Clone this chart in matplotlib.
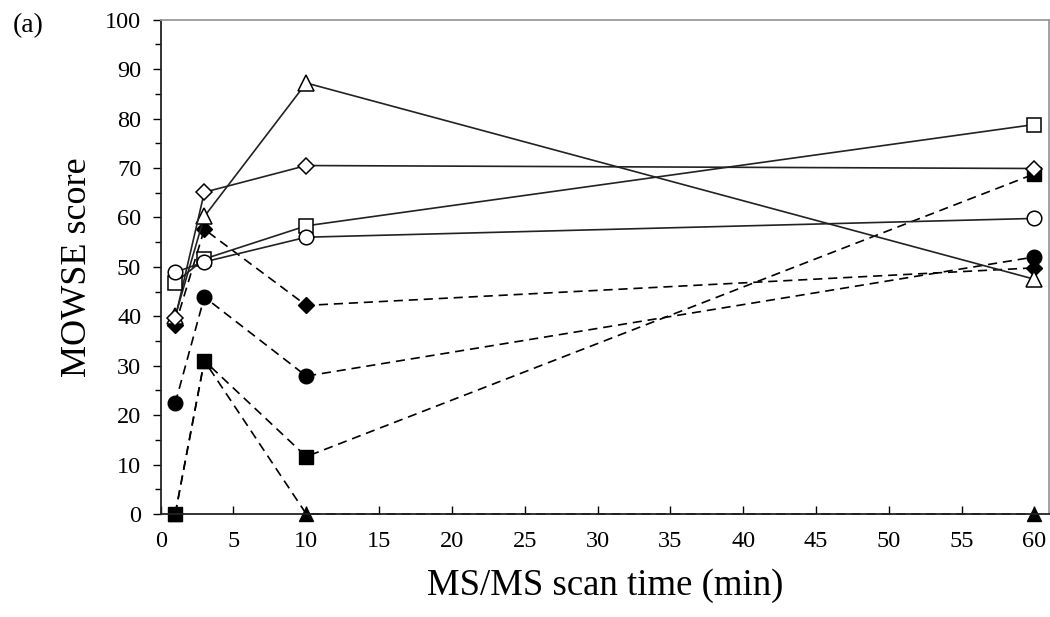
import matplotlib
matplotlib.use("Agg")
import matplotlib.pyplot as plt
from matplotlib.ticker import MultipleLocator

plt.rcParams['font.family'] = ['Liberation Serif', 'DejaVu Serif']

x = [1, 3, 10, 60]

open_triangle = [40, 60.2, 87.2, 47.5]
open_diamond = [39.6, 65.1, 70.5, 69.9]
open_square = [46.8, 51.6, 58.3, 78.8]
open_circle = [48.9, 51.0, 56.0, 59.8]
filled_diamond = [38.2, 57.6, 42.2, 49.8]
filled_circle = [22.4, 43.9, 27.9, 52.0]
filled_square = [0, 31.0, 11.6, 68.8]
filled_triangle = [0, 31.0, 0, 0]

xticks = list(range(0, 61, 5))

fig = plt.figure(figsize=(10.5, 6.17), dpi=100)
ax = fig.add_axes([0.153, 0.167, 0.846, 0.801])

ms = 10.5
solid_kw = dict(color='#222222', lw=1.2, ls='-', mfc='white', mec='black', mew=1.1, ms=ms)
dash_kw = dict(color='black', lw=1.2, ls=(0, (5.5, 3.5)), mfc='black', mec='black', ms=ms)

ax.plot(x, filled_triangle, marker='^', **dash_kw)
ax.plot(x, filled_square, marker='s', **dash_kw)
ax.plot(x, filled_circle, marker='o', **dash_kw)
ax.plot(x, filled_diamond, marker='D', **{**dash_kw, 'ms': 8.5})
ax.plot(x, open_triangle, marker='^', **{**solid_kw, 'ms': 11.5})
ax.plot(x, open_diamond, marker='D', **{**solid_kw, 'ms': 8.5})
ax.plot(x, open_square, marker='s', **solid_kw)
ax.plot(x, open_circle, marker='o', **solid_kw)

ax.set_xlim(0, 61)
ax.set_ylim(0, 100)
ax.set_xticks(xticks)
ax.yaxis.set_major_locator(MultipleLocator(10))
ax.yaxis.set_minor_locator(MultipleLocator(5))
ax.tick_params(axis='x', direction='in', length=6, width=1, labelsize=17.5, pad=12)
ax.tick_params(axis='y', which='major', direction='out', length=6, width=1, labelsize=17.5, pad=8)
ax.tick_params(axis='y', which='minor', direction='out', length=4, width=1)
for s in ['top', 'right']:
    ax.spines[s].set_color('#9a9a9a')
    ax.spines[s].set_linewidth(1.3)
for s in ['left', 'bottom']:
    ax.spines[s].set_linewidth(1.3)
    ax.spines[s].set_color('#222222')
for ln in ax.lines:
    ln.set_clip_on(False)

ax.set_xlabel('MS/MS scan time (min)', fontsize=26.5, labelpad=12)
ax.set_ylabel('MOWSE score', fontsize=26, labelpad=8)
fig.text(0.012, 0.958, '(a)', fontsize=20, ha='left', va='center')

fig.savefig('out.png', dpi=100)
